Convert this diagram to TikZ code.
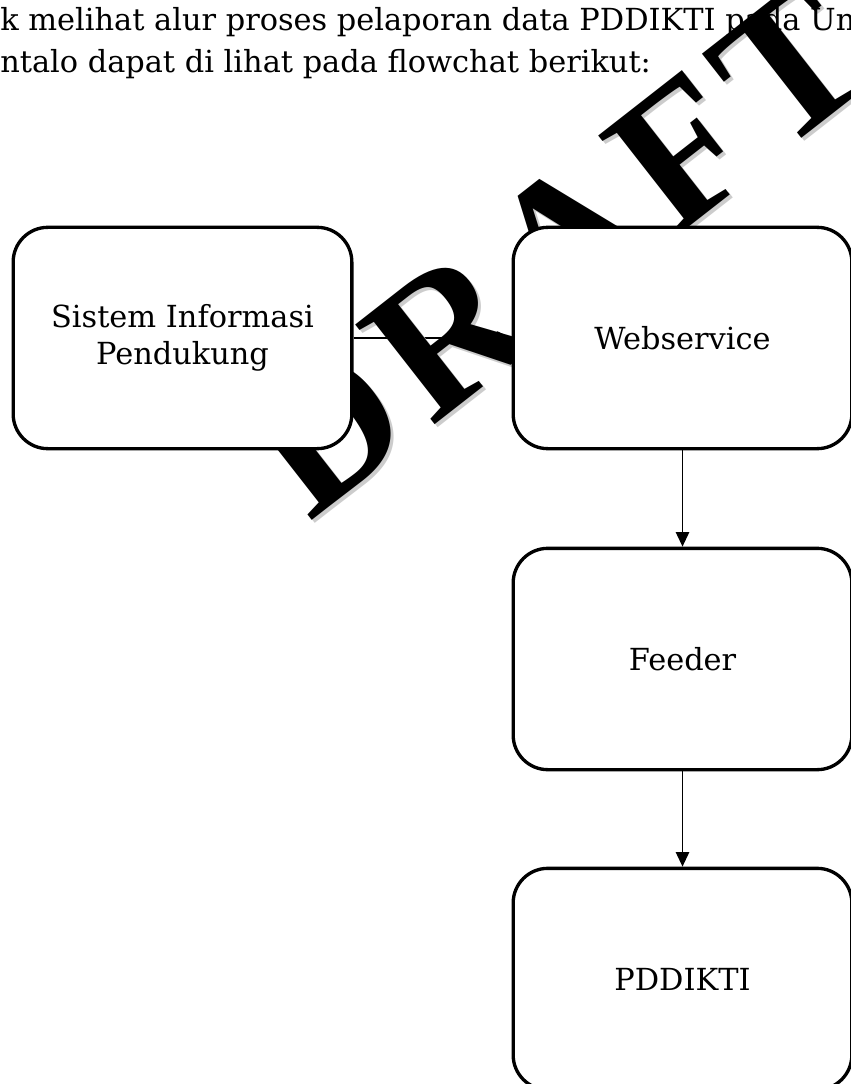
\documentclass[tikz,border=0pt]{standalone}
\usepackage{fontspec}
\setmainfont{DejaVu Serif}
\newfontfamily\markfont[LetterSpace=7]{Liberation Serif}
\usetikzlibrary{arrows.meta}

\pgfdeclarelayer{under}
\pgfdeclarelayer{mark}
\pgfsetlayers{under,mark,main}

\begin{document}
\begin{tikzpicture}[x=0.75pt, y=-0.75pt,
    box/.style={rectangle, draw, fill=white, line width=2.5pt, rounded corners=26pt,
      minimum width=254pt, minimum height=166pt, align=center,
      font=\fontsize{22.8}{28}\selectfont},
    flow/.style={-{Triangle[width=10pt,length=11pt]}, line width=1.4pt},
    bodytext/.style={anchor=base west, inner sep=0pt, font=\fontsize{22.8}{28}\selectfont},
    wmark/.style={rotate=38, font=\markfont\bfseries\fontsize{146}{146}\selectfont}]
    \useasboundingbox (0,0) rectangle (850,1084);

    \node[bodytext] (line1) at (0,31) {k melihat alur proses pelaporan data PDDIKTI pada Un};
    \node[bodytext] (line2) at (0,73) {ntalo dapat di lihat pada flowchat berikut:};

    \node[box] (SIP) at (182.5,338) {Sistem Informasi\\Pendukung};
    \node[box] (WS) at (682.5,338) {Webservice};
    \node[box] (FD) at (682.5,659) {Feeder};
    \node[box] (PD) at (682.5,979) {PDDIKTI};

    \begin{pgfonlayer}{mark}
      \node[wmark, text=black!20] (shadow) at (559,252) {DRAFT};
      \node[wmark] (draft) at (556,249) {DRAFT};
    \end{pgfonlayer}

    \begin{pgfonlayer}{under}
      \draw[flow] (SIP) -- (WS);
    \end{pgfonlayer}
    \draw[flow] (WS) -- (FD);
    \draw[flow] (FD) -- (PD);
  \end{tikzpicture}
\end{document}
